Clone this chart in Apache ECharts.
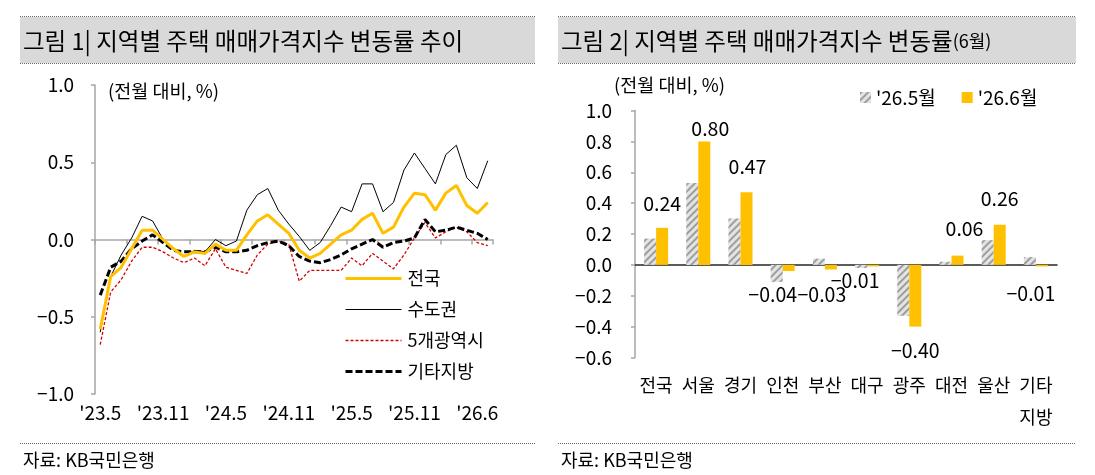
<!DOCTYPE html>
<html>
<head>
<meta charset="utf-8">
<script src="https://cdn.jsdelivr.net/npm/echarts@6.0.0/dist/echarts.min.js"></script>
<style>
  html, body { margin: 0; padding: 0; background: #fff; }
  #chart { width: 1095px; height: 475px; }
</style>
</head>
<body>
<div id="chart"></div>
<script>
// ---- 그림 1 data: 월별 변동률 (전월 대비, %) ----
const months = ["'23.5", "'23.6", "'23.7", "'23.8", "'23.9", "'23.10", "'23.11", "'23.12",
  "'24.1", "'24.2", "'24.3", "'24.4", "'24.5", "'24.6", "'24.7", "'24.8", "'24.9", "'24.10",
  "'24.11", "'24.12", "'25.1", "'25.2", "'25.3", "'25.4", "'25.5", "'25.6", "'25.7", "'25.8",
  "'25.9", "'25.10", "'25.11", "'25.12", "'26.1", "'26.2", "'26.3", "'26.4", "'26.5", "'26.6"]
const xTickLabels = ["'23.5", "'23.11", "'24.5", "'24.11", "'25.5", "'25.11", "'26.6"]

const nationwide = [-0.58, -0.24, -0.18, -0.06, 0.06, 0.06, 0.00, -0.06, -0.11, -0.08,
  -0.09, -0.03, -0.07, -0.07, 0.03, 0.12, 0.16, 0.10, 0.04, -0.07,
  -0.12, -0.09, -0.03, 0.03, 0.06, 0.13, 0.17, 0.04, 0.08, 0.21,
  0.30, 0.29, 0.19, 0.30, 0.35, 0.22, 0.17, 0.24]
const capital = [-0.60, -0.24, -0.10, 0.01, 0.15, 0.12, 0.00, -0.06, -0.11, -0.07,
  -0.08, 0.00, -0.04, -0.01, 0.19, 0.29, 0.33, 0.19, 0.10, 0.02,
  -0.07, -0.02, 0.09, 0.21, 0.18, 0.36, 0.36, 0.18, 0.24, 0.45,
  0.56, 0.46, 0.36, 0.55, 0.61, 0.40, 0.33, 0.51]
const metro5 = [-0.68, -0.34, -0.26, -0.14, -0.05, -0.05, -0.08, -0.12, -0.15, -0.12,
  -0.17, -0.06, -0.18, -0.20, -0.22, -0.10, -0.03, -0.01, -0.03, -0.27,
  -0.20, -0.20, -0.20, -0.20, -0.12, -0.17, -0.09, -0.14, -0.19, -0.10,
  0.01, 0.11, 0.01, 0.05, 0.08, 0.05, -0.02, -0.04]
const otherProv = [-0.36, -0.18, -0.14, -0.06, -0.01, 0.03, -0.02, -0.07, -0.08, -0.08,
  -0.08, -0.05, -0.08, -0.08, -0.07, -0.04, -0.02, -0.01, -0.04, -0.11,
  -0.14, -0.15, -0.13, -0.10, -0.06, -0.03, 0.00, -0.05, -0.02, -0.01,
  0.01, 0.13, 0.05, 0.06, 0.08, 0.06, 0.04, 0.00]

// ---- 그림 2 data: 지역별 6월 변동률 ----
const regions = ['전국', '서울', '경기', '인천', '부산', '대구', '광주', '대전', '울산', '기타\n지방']
const may26 = [0.17, 0.53, 0.30, -0.11, 0.04, -0.02, -0.33, 0.02, 0.16, 0.05]
const jun26 = [0.24, 0.80, 0.47, -0.04, -0.03, -0.01, -0.40, 0.06, 0.26, -0.01]

const FONT = '"Noto Sans CJK KR", "Noto Sans", sans-serif'
const fmt = (v, d) => (v < 0 ? '\u2212' : '') + Math.abs(v).toFixed(d)

// label placement tweaks for the '26.6 bars (dx, distance)
const labelPlace = [[0, 14], [6, 3], [1, 16], [-16, 14], [-9, 15], [-18, 4], [0, 14], [7, 17], [0, 16], [-11, 17]]

const jun26Items = jun26.map((v, i) => ({
  value: v,
  label: {
    position: v < 0 ? 'bottom' : 'top',
    distance: labelPlace[i][1],
    offset: [labelPlace[i][0], 0]
  }
}))

const gray = '#a6a6a6'

function lineSeries(name, data, color, width, type) {
  return {
    name, type: 'line', data, xAxisIndex: 0, yAxisIndex: 0,
    symbol: 'none', smooth: false,
    lineStyle: { color, width, type },
    itemStyle: { color },
    z: name === '전국' ? 5 : 3
  }
}

function titleBox(x, w, rich) {
  return [
    { type: 'rect', shape: { x, y: 17, width: w, height: 46 }, style: { fill: '#d9d9d9' }, silent: true },
    { type: 'line', shape: { x1: x, y1: 16.5, x2: x + w, y2: 16.5 }, style: { stroke: '#666', lineWidth: 1, lineDash: [1, 1] } },
    { type: 'line', shape: { x1: x, y1: 63.5, x2: x + w, y2: 63.5 }, style: { stroke: '#666', lineWidth: 1, lineDash: [1, 1] } },
    { type: 'line', shape: { x1: x, y1: 443.5, x2: x + w, y2: 443.5 }, style: { stroke: '#666', lineWidth: 1, lineDash: [1, 1] } },
    { type: 'text', x: x + 3, y: 41, style: Object.assign({ fontFamily: FONT, fill: '#000', verticalAlign: 'middle' }, rich) },
    { type: 'text', x: x + 3, y: 460, style: { text: '자료: KB국민은행', fontFamily: FONT, fontSize: 18, fill: '#000', verticalAlign: 'middle' } }
  ]
}

const chart = echarts.init(document.getElementById('chart'))

chart.setOption({
  animation: false,
  textStyle: { fontFamily: FONT },
  graphic: [
    ...titleBox(20, 515, { text: '그림 1| 지역별 주택 매매가격지수 변동률 추이', fontSize: 23.5 }),
    ...titleBox(558, 518, {
      text: '{a|그림 2| 지역별 주택 매매가격지수 변동률}{b|(6월)}',
      rich: { a: { fontSize: 23.5, fontFamily: FONT }, b: { fontSize: 18, fontFamily: FONT } }
    }),
    { type: 'text', x: 108, y: 91, style: { text: '(전월 대비, %)', fontFamily: FONT, fontSize: 18.5, fill: '#000', verticalAlign: 'middle' } },
    { type: 'text', x: 614, y: 85, style: { text: '(전월 대비, %)', fontFamily: FONT, fontSize: 18.5, fill: '#000', verticalAlign: 'middle' } }
  ],
  grid: [
    { left: 95, top: 85, width: 398, height: 309 },
    { left: 635, top: 110.5, width: 422, height: 247 }
  ],
  legend: [
    {
      data: ['전국', '수도권', '5개광역시', '기타지방'],
      orient: 'vertical', left: 339, top: 263,
      itemWidth: 56, itemHeight: 14, itemGap: 10,
      itemStyle: { opacity: 0 },
      lineStyle: { width: 'inherit' },
      textStyle: { fontSize: 18, color: '#000', lineHeight: 21, fontFamily: FONT, padding: [0, 0, 0, 1] }
    },
    {
      data: ["'26.5월", "'26.6월"],
      left: 855, top: 83, itemWidth: 11, itemHeight: 11, itemGap: 26,
      icon: 'rect',
      textStyle: { fontSize: 19, color: '#000', fontFamily: FONT }
    }
  ],
  xAxis: [
    {
      gridIndex: 0, type: 'category', data: months, boundaryGap: true,
      axisLine: { onZero: true, lineStyle: { color: gray, width: 1.5 } },
      axisTick: { show: true, interval: 2, length: 5, lineStyle: { color: gray, width: 1.5 } },
      axisLabel: { show: false }
    },
    {
      gridIndex: 0, type: 'category', data: months, boundaryGap: true, position: 'bottom',
      axisLine: { show: false, onZero: false }, axisTick: { show: false },
      axisLabel: {
        interval: 5, margin: 9, fontSize: 19, color: '#000', fontFamily: FONT,
        formatter: (v, i) => xTickLabels[i / 6]
      }
    },
    {
      gridIndex: 1, type: 'category', data: regions,
      axisLine: { onZero: true, lineStyle: { color: '#262626', width: 1.5 } },
      axisTick: { show: false }, axisLabel: { show: false }
    },
    {
      gridIndex: 1, type: 'category', data: regions, position: 'bottom',
      axisLine: { show: false, onZero: false }, axisTick: { show: false },
      axisLabel: { interval: 0, margin: 12, fontSize: 18, lineHeight: 32, color: '#000', fontFamily: FONT }
    }
  ],
  yAxis: [
    {
      gridIndex: 0, type: 'value', min: -1, max: 1, interval: 0.5,
      axisLine: { show: true, lineStyle: { color: gray, width: 1.5 } },
      axisTick: { show: true, length: 4, lineStyle: { color: gray, width: 1.5 } },
      splitLine: { show: false },
      axisLabel: { margin: 21, fontSize: 19, color: '#000', fontFamily: FONT, formatter: v => fmt(v, 1) }
    },
    {
      gridIndex: 1, type: 'value', min: -0.6, max: 1.0, interval: 0.2,
      axisLine: { show: true, lineStyle: { color: gray, width: 1.5 } },
      axisTick: { show: true, length: 4, lineStyle: { color: gray, width: 1.5 } },
      splitLine: { show: false },
      axisLabel: { margin: 23, fontSize: 19, color: '#000', fontFamily: FONT, formatter: v => fmt(v, 1) }
    }
  ],
  series: [
    lineSeries('수도권', capital, '#000000', 1, 'solid'),
    lineSeries('5개광역시', metro5, '#d00000', 1.3, [3, 2]),
    lineSeries('기타지방', otherProv, '#000000', 3, [7, 3]),
    lineSeries('전국', nationwide, '#ffc000', 3, 'solid'),
    {
      name: "'26.5월", type: 'bar', data: may26, xAxisIndex: 2, yAxisIndex: 1,
      barWidth: 12, barGap: '0%',
      itemStyle: {
        color: '#e4e4e4',
        decal: { symbol: 'rect', color: '#9e9e9e', dashArrayX: [1, 0], dashArrayY: [2, 3], rotation: -Math.PI / 4 }
      }
    },
    {
      name: "'26.6월", type: 'bar', data: jun26Items, xAxisIndex: 2, yAxisIndex: 1,
      barWidth: 12, barGap: '0%',
      itemStyle: { color: '#ffc000' },
      label: { show: true, fontSize: 19.5, color: '#000', fontFamily: FONT, formatter: p => fmt(p.value, 2) }
    }
  ]
})
</script>
</body>
</html>
